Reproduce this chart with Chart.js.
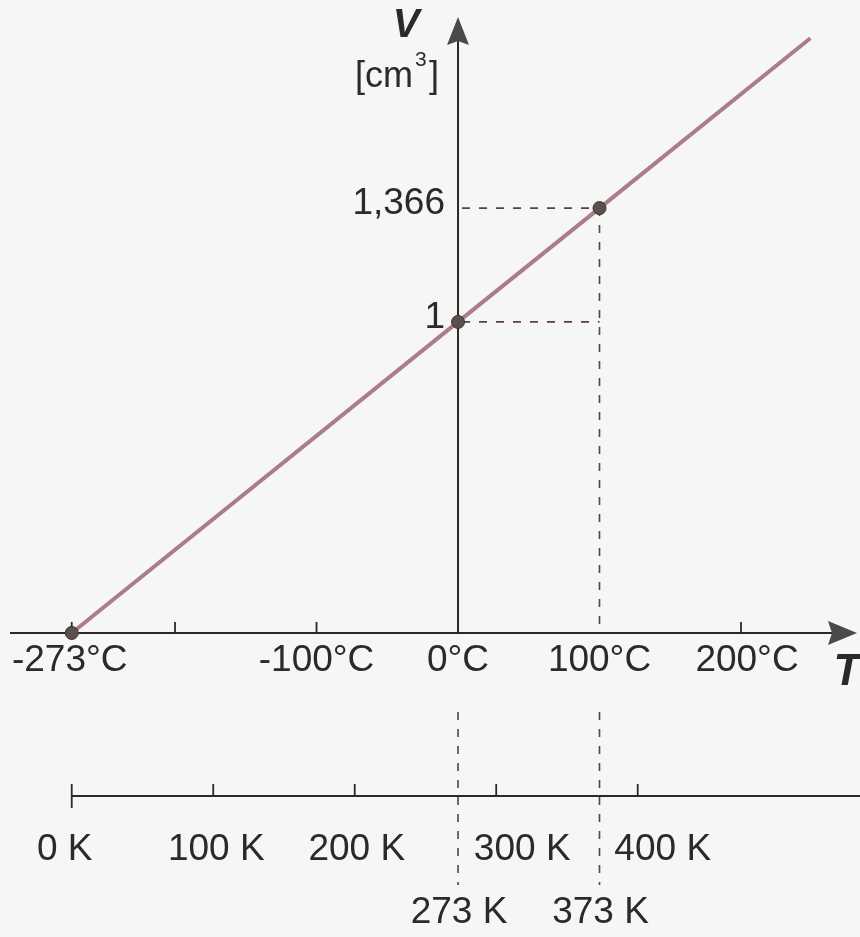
<!DOCTYPE html>
<html>
<head>
<meta charset="utf-8">
<script src="https://cdn.jsdelivr.net/npm/chart.js@4.4.0/dist/chart.umd.min.js"></script>
<style>
  html, body { margin: 0; padding: 0; background: #f6f6f4; }
  #wrap { width: 860px; height: 937px; }
</style>
</head>
<body>
<div id="wrap"><canvas id="c" width="860" height="937"></canvas></div>
<script>
// ---- data ----
const temperatureC = [-273, 0, 100, 249];
const volumeCm3 = [0, 1, 1.366, 1.912];
const markedPoint = [true, true, true, false];
const celsiusTicks = [-273, -200, -100, 200];
const celsiusLabelValues = [-273, -100, 0, 100, 200];
const celsiusLabels = ['-273°C', '-100°C', '0°C', '100°C', '200°C'];
const kelvinTicks = [0, 100, 200, 300, 400];
const kelvinLabels = ['0 K', '100 K', '200 K', '300 K', '400 K'];
const kelvinMarks = [273, 373];
const kelvinMarkLabels = ['273 K', '373 K'];
const volumeLabelValues = [1, 1.366];
const volumeLabels = ['1', '1,366'];

// ---- scale geometry ----
const X_MIN = -323.7, X_MAX = 284.1;
const Y_MIN = -0.9775, Y_MAX = 2.035;
const KELVIN_OFFSET = 273;

const FONT = '"Liberation Sans", Arial, sans-serif';
const INK = '#2a2a2a';
const DASH = '#5e3c4a';

const points = temperatureC.map((t, i) => ({ x: t, y: volumeCm3[i] }));

function dashedLine(ctx, x1, y1, x2, y2) {
  ctx.save();
  ctx.strokeStyle = DASH;
  ctx.lineWidth = 1.6;
  ctx.setLineDash([8, 9]);
  ctx.beginPath();
  ctx.moveTo(x1, y1);
  ctx.lineTo(x2, y2);
  ctx.stroke();
  ctx.restore();
}

const axesPlugin = {
  id: 'axesPlugin',
  beforeDatasetsDraw(chart) {
    const ctx = chart.ctx;
    const xs = chart.scales.x, ys = chart.scales.y, ks = chart.scales.k;
    const y0 = ys.getPixelForValue(0);
    const x0 = xs.getPixelForValue(0);
    const kAxisY = y0 + 163;

    ctx.save();
    ctx.strokeStyle = INK;
    ctx.fillStyle = '#4a4a4a';
    ctx.lineWidth = 2;

    // main T axis
    ctx.beginPath();
    ctx.moveTo(10, y0);
    ctx.lineTo(840, y0);
    ctx.stroke();
    ctx.beginPath();
    ctx.moveTo(857, y0);
    ctx.lineTo(828, y0 - 12);
    ctx.lineTo(832, y0);
    ctx.lineTo(828, y0 + 12);
    ctx.closePath();
    ctx.fill();

    // V axis
    ctx.beginPath();
    ctx.moveTo(x0, y0);
    ctx.lineTo(x0, 35);
    ctx.stroke();
    ctx.beginPath();
    ctx.moveTo(x0, 17);
    ctx.lineTo(x0 - 11, 45);
    ctx.lineTo(x0, 41);
    ctx.lineTo(x0 + 11, 45);
    ctx.closePath();
    ctx.fill();

    // celsius ticks
    ctx.lineWidth = 1.8;
    celsiusTicks.forEach(t => {
      const px = xs.getPixelForValue(t);
      ctx.beginPath();
      ctx.moveTo(px, y0);
      ctx.lineTo(px, y0 - 11);
      ctx.stroke();
    });

    // kelvin axis
    const k0 = ks.getPixelForValue(0);
    ctx.lineWidth = 2;
    ctx.beginPath();
    ctx.moveTo(k0, kAxisY);
    ctx.lineTo(860, kAxisY);
    ctx.stroke();
    ctx.lineWidth = 1.8;
    kelvinTicks.forEach((k, i) => {
      const px = ks.getPixelForValue(k);
      ctx.beginPath();
      ctx.moveTo(px, kAxisY - 12);
      ctx.lineTo(px, i === 0 ? kAxisY + 12 : kAxisY);
      ctx.stroke();
    });
    ctx.restore();

    // dashed guides
    const x100 = xs.getPixelForValue(temperatureC[2]);
    const yTop = ys.getPixelForValue(volumeCm3[2]);
    const yOne = ys.getPixelForValue(volumeCm3[1]);
    dashedLine(ctx, x0 + 4, yTop, x100, yTop);
    dashedLine(ctx, x0 + 4, yOne, x100, yOne);
    dashedLine(ctx, x100, yTop, x100, y0);
    kelvinMarks.forEach(k => {
      const px = ks.getPixelForValue(k);
      dashedLine(ctx, px, y0 + 79, px, y0 + 252);
    });
  },
  afterDraw(chart) {
    const ctx = chart.ctx;
    const xs = chart.scales.x, ys = chart.scales.y, ks = chart.scales.k;
    const y0 = ys.getPixelForValue(0);
    const x0 = xs.getPixelForValue(0);
    ctx.save();
    ctx.fillStyle = INK;
    ctx.textBaseline = 'middle';
    ctx.textAlign = 'center';
    ctx.font = '37px ' + FONT;
    const cShift = [-2, 0, 0, 0, 6];
    celsiusLabelValues.forEach((t, i) => {
      ctx.fillText(celsiusLabels[i], xs.getPixelForValue(t) + cShift[i], y0 + 28);
    });
    const kShift = [-7, 3, 2, 26, 25];
    kelvinTicks.forEach((k, i) => {
      ctx.fillText(kelvinLabels[i], ks.getPixelForValue(k) + kShift[i], y0 + 217);
    });
    kelvinMarks.forEach((k, i) => {
      ctx.fillText(kelvinMarkLabels[i], ks.getPixelForValue(k) + 1, y0 + 280);
    });
    ctx.textAlign = 'right';
    volumeLabelValues.forEach((v, i) => {
      ctx.fillText(volumeLabels[i], x0 - 13, ys.getPixelForValue(v) - 4);
    });

    // axis titles
    ctx.textAlign = 'center';
    ctx.font = 'italic bold 40px ' + FONT;
    ctx.fillText('V', 406, 26);
    ctx.font = 'italic bold 44px ' + FONT;
    ctx.fillText('T', 847, 673);
    ctx.font = '36px ' + FONT;
    ctx.textAlign = 'left';
    ctx.fillText('[cm', 355, 77);
    const wcm = ctx.measureText('[cm').width;
    ctx.font = '21px ' + FONT;
    ctx.fillText('3', 355 + wcm + 2, 60);
    ctx.font = '36px ' + FONT;
    ctx.fillText(']', 355 + wcm + 16, 77);
    ctx.restore();
  }
};

new Chart(document.getElementById('c'), {
  type: 'scatter',
  data: {
    datasets: [{
      data: points,
      showLine: true,
      borderColor: '#ac7c8c',
      borderWidth: 4,
      pointRadius: markedPoint.map(m => (m ? 6.5 : 0)),
      pointBackgroundColor: '#5a5050',
      pointBorderColor: '#3a3030',
      pointBorderWidth: 1,
      clip: false
    }]
  },
  options: {
    responsive: false,
    animation: false,
    layout: { padding: 0, autoPadding: false },
    plugins: { legend: { display: false }, tooltip: { enabled: false } },
    scales: {
      x: { type: 'linear', min: X_MIN, max: X_MAX, display: false },
      y: { type: 'linear', min: Y_MIN, max: Y_MAX, display: false },
      k: { type: 'linear', axis: 'x', min: X_MIN + KELVIN_OFFSET, max: X_MAX + KELVIN_OFFSET, display: false }
    }
  },
  plugins: [axesPlugin]
});
</script>
</body>
</html>
